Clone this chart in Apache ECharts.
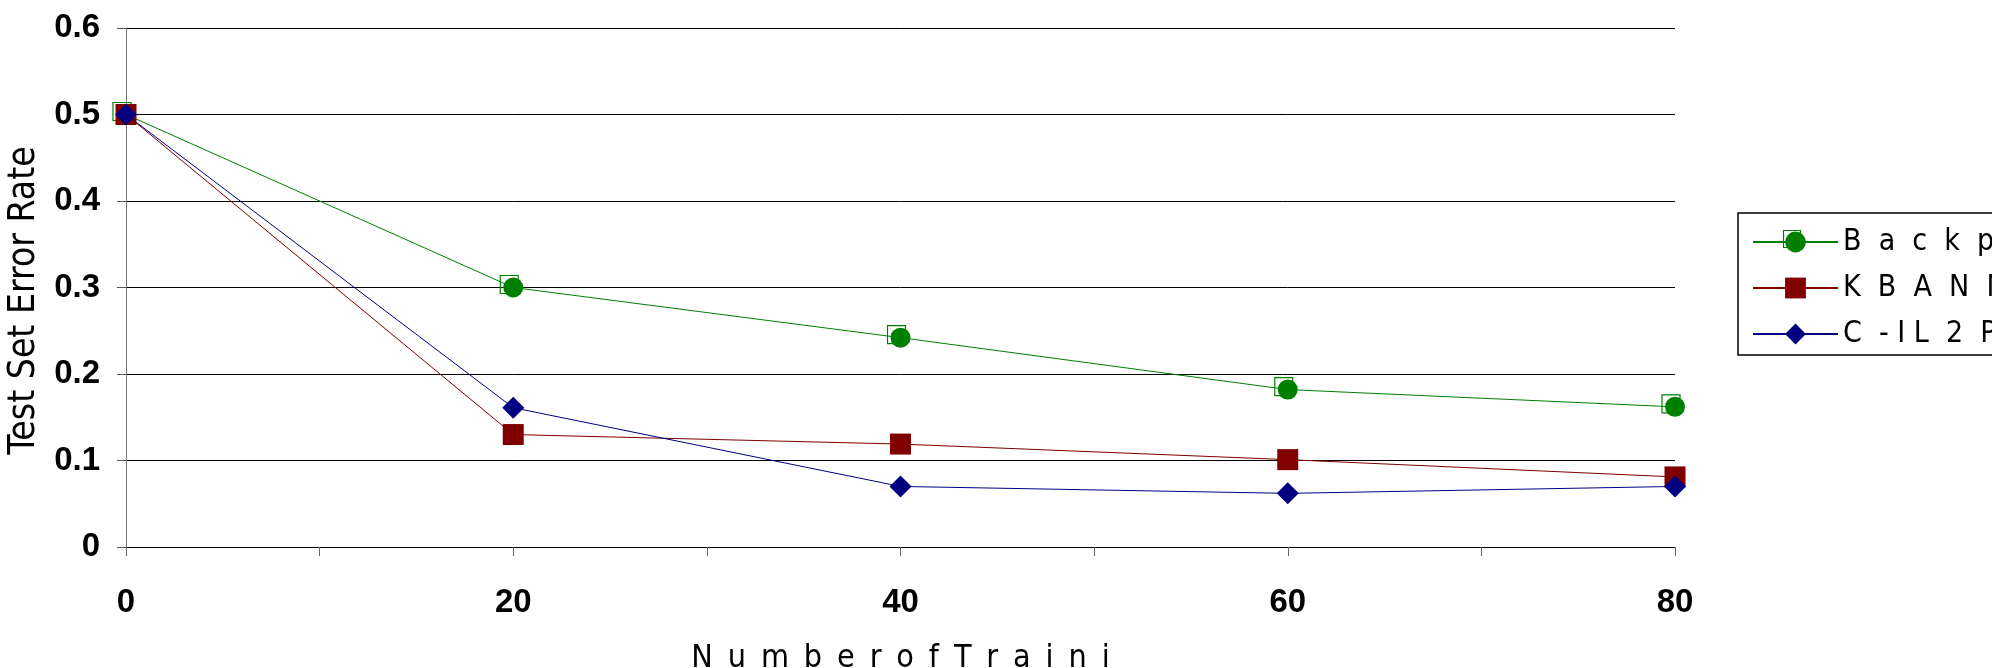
<!DOCTYPE html>
<html><head><meta charset="utf-8">
<script src="https://cdn.jsdelivr.net/npm/echarts@6/dist/echarts.min.js"></script>
<style>html,body{margin:0;padding:0;background:#fff}#c{width:1992px;height:668px}</style>
</head><body><div id="c"></div>
<script>
// ---- data ----
const xValues = [0, 20, 40, 60, 80];
const backprop = [0.5, 0.3, 0.242, 0.182, 0.162];
const kbann = [0.5, 0.13, 0.119, 0.101, 0.081];
const cil2p = [0.5, 0.161, 0.07, 0.062, 0.07];
const seriesNames = ['B  a  c  k  p  r  o  p', 'K  B  A  N  N', 'C  - I L  2  P'];
const yTitle = 'Test Set Error Rate';
const xTitle = 'N \u2009u \u2009m \u2009b \u2009e \u2009r \u2009o \u2009f \u2009T \u2009r \u2009a \u2009i \u2009n \u2009i';
const yTicks = [0, 0.1, 0.2, 0.3, 0.4, 0.5, 0.6];
const xLabelStep = 20;

const pairs = arr => xValues.map((x, i) => [x, arr[i]]);
const narrow = "'Liberation Sans Narrow', 'DejaVu Sans Condensed', 'Liberation Sans', sans-serif";
const GREEN = '#008000', RED = '#800000', NAVY = '#000080';

const chart = echarts.init(document.getElementById('c'), null, {renderer: 'canvas'});
chart.setOption({
  animation: false,
  backgroundColor: '#fff',
  grid: {left: 126, right: 317, top: 28, bottom: 121, containLabel: false, outerBoundsMode: 'none'},
  xAxis: {
    type: 'value', min: 0, max: 80, interval: 10,
    axisLine: {show: true, lineStyle: {color: '#000', width: 1}},
    axisTick: {show: true, length: 9, inside: false, lineStyle: {color: '#666'}},
    splitLine: {show: false},
    axisLabel: {
      margin: 39, color: '#000', fontFamily: "'Liberation Sans', Arial, sans-serif",
      fontWeight: 'bold', fontSize: 33,
      formatter: v => (v % xLabelStep === 0 ? String(v) : '')
    },
    name: xTitle, nameLocation: 'middle', nameGap: 96,
    nameTextStyle: {fontFamily: narrow, fontSize: 32, color: '#000'}
  },
  yAxis: {
    type: 'value', min: yTicks[0], max: yTicks[yTicks.length - 1], interval: 0.1,
    axisLine: {show: true, lineStyle: {color: '#777', width: 1}},
    axisTick: {show: true, length: 9, lineStyle: {color: '#555'}},
    splitLine: {show: true, lineStyle: {color: '#000', width: 1}},
    axisLabel: {
      margin: 26, color: '#000', fontFamily: "'Liberation Sans', Arial, sans-serif",
      fontWeight: 'bold', fontSize: 33,
      formatter: v => String(Math.round(v * 10) / 10)
    },
    name: yTitle, nameLocation: 'middle', nameGap: 70, nameRotate: 90,
    nameTextStyle: {fontFamily: narrow, fontSize: 37, color: '#000', padding: [0, 26, 0, 0]}
  },
  legend: {
    orient: 'vertical', left: 1738, top: 213,
    data: seriesNames,
    itemWidth: 85, itemHeight: 26, itemGap: 16,
    padding: [14, 30, 6, 14],
    borderColor: '#000', borderWidth: 1.5,
    textStyle: {fontFamily: narrow, fontSize: 30, color: '#000', lineHeight: 30, padding: [0, 0, 0, 0]},
    selectedMode: false
  },
  graphic: [{
    type: 'rect', z: 3, left: 1781, top: 228,
    shape: {width: 17, height: 17},
    style: {fill: 'none', stroke: GREEN, lineWidth: 1.2}
  }],
  series: [
    {
      name: 'backprop-frame', type: 'line', data: pairs(backprop),
      symbol: 'rect', symbolSize: 18, symbolOffset: [-4, -3], showSymbol: true,
      lineStyle: {width: 0, opacity: 0},
      itemStyle: {color: 'rgba(0,0,0,0)', borderColor: GREEN, borderWidth: 1.2},
      silent: true, z: 1
    },
    {
      name: seriesNames[0], type: 'line', data: pairs(backprop),
      symbol: 'circle', symbolSize: 20, showSymbol: true,
      lineStyle: {color: GREEN, width: 1}, itemStyle: {color: GREEN}, z: 2
    },
    {
      name: seriesNames[1], type: 'line', data: pairs(kbann),
      symbol: 'rect', symbolSize: 21, showSymbol: true,
      lineStyle: {color: RED, width: 1}, itemStyle: {color: RED}, z: 3
    },
    {
      name: seriesNames[2], type: 'line', data: pairs(cil2p),
      symbol: 'diamond', symbolSize: 22, showSymbol: true,
      lineStyle: {color: NAVY, width: 1}, itemStyle: {color: NAVY}, z: 4
    }
  ]
});
</script>
</body></html>
